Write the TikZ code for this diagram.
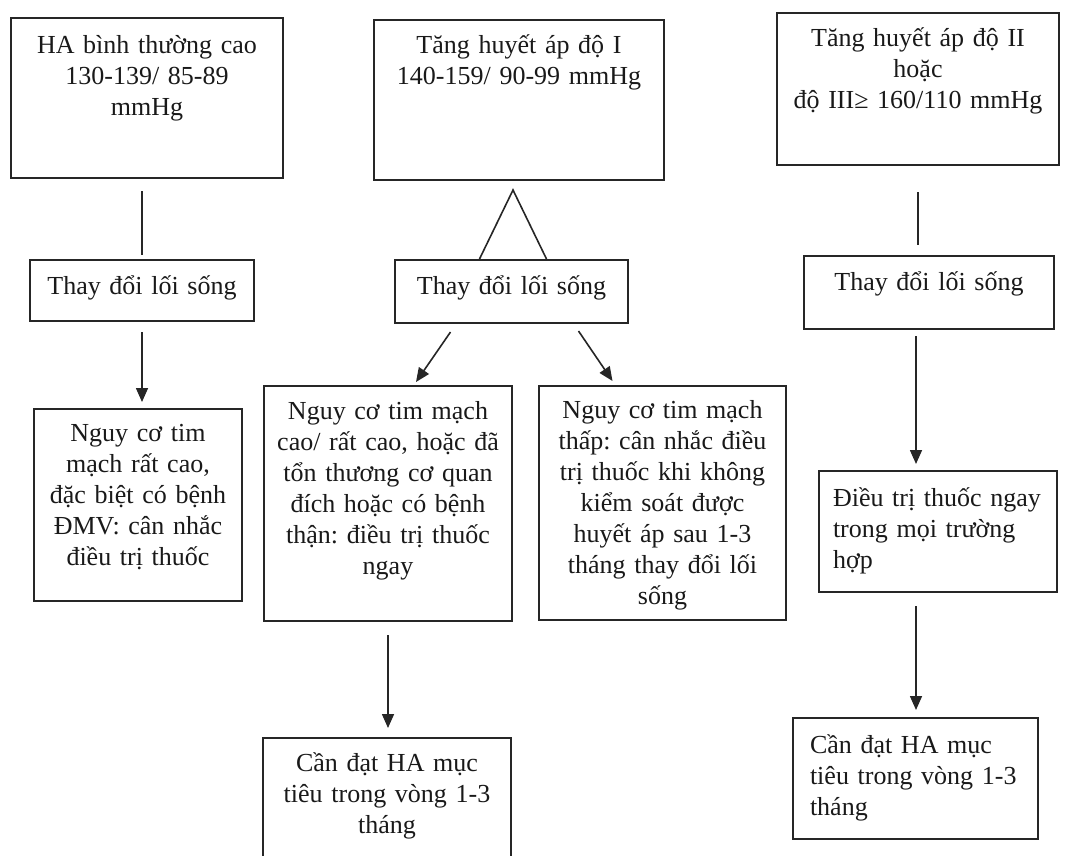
\documentclass[tikz,border=0pt]{standalone}
\usepackage{fontspec}
\setmainfont{Liberation Serif}
\usepackage{tikz}
\usetikzlibrary{arrows.meta}
\frenchspacing

\begin{document}
\begin{tikzpicture}[x=1pt,y=-1pt,
                box/.style={draw=black!85,line width=2pt,anchor=north west,
                    inner xsep=0pt,inner ysep=0pt,align=center,text=black!90,
                    font=\fontsize{26}{31}\selectfont},
                line/.style={draw=black!85,line width=1.6pt},
                arr/.style={line,-{Triangle[length=14pt,width=12pt]}}]
                \clip
                    (0,0) rectangle (1067,855);
                \node[box,text width=272pt,text height=35pt,text depth=125pt] (normal)
                    at (10,17) {HA bình thường cao\\130-139/ 85-89\\mmHg};
                \node[box,text width=290pt,text height=33pt,text depth=127pt] (grade1)
                    at (373,19) {Tăng huyết áp độ I\\140-159/ 90-99 mmHg};
                \node[box,text width=282pt,text height=33pt,text depth=119pt] (grade2)
                    at (776,12) {Tăng huyết áp độ II\\hoặc\\độ III≥ 160/110 mmHg};
                \node[box,text width=224pt,text height=34pt,text depth=27pt] (life1)
                    at (29,259) {Thay đổi lối sống};
                \node[box,text width=233pt,text height=34pt,text depth=29pt] (life2)
                    at (394,259) {Thay đổi lối sống};
                \node[box,text width=250pt,text height=34pt,text depth=39pt] (life3)
                    at (803,255) {Thay đổi lối sống};
                \node[box,text width=208pt,text height=32pt,text depth=160pt] (veryhigh)
                    at (33,408) {Nguy cơ tim\\mạch rất cao,\\đặc biệt có bệnh\\ĐMV: cân nhắc\\điều trị thuốc};
                \node[box,text width=248pt,text height=33pt,text depth=202pt] (high)
                    at (263,385) {Nguy cơ tim mạch\\cao/ rất cao, hoặc đã\\tổn thương cơ quan\\đích hoặc có bệnh\\thận: điều trị thuốc\\ngay};
                \node[box,text width=247pt,text height=32pt,text depth=202pt] (low)
                    at (538,385) {Nguy cơ tim mạch\\thấp: cân nhắc điều\\trị thuốc khi không\\kiểm soát được\\huyết áp sau 1-3\\tháng thay đổi lối\\sống};
                \node[box,align=left,inner xsep=14pt,text width=210pt,text height=35pt,text depth=86pt] (drugs)
                    at (818,470) {Điều trị thuốc ngay\\trong mọi trường\\hợp};
                \node[box,text width=248pt,text height=33pt,text depth=100pt] (target1)
                    at (262,737) {Cần đạt HA mục\\tiêu trong vòng 1-3\\tháng};
                \node[box,align=left,inner xsep=17pt,text width=211pt,text height=35pt,text depth=86pt] (target2)
                    at (792,717) {Cần đạt HA mục\\tiêu trong vòng 1-3\\tháng};
                \coordinate (peak) at (513,190);
                \coordinate (col3) at ([xshift=-13pt]life3.south);
                \draw[line,shorten <=12pt,shorten >=4pt]
                    (normal.south -| life1.north) -- (life1.north);
                \draw[line]
                    ([xshift=-32pt]life2.north) -- (peak) -- ([xshift=35pt]life2.north);
                \draw[line,shorten <=26pt,shorten >=10pt]
                    (grade2.south) -- (grade2.south |- life3.north);
                \draw[arr,shorten <=10pt,shorten >=6pt]
                    (life1.south) -- (life1.south |- veryhigh.north);
                \draw[arr]
                    ([xshift=-61pt,yshift=-8pt]life2.south) -- ([xshift=28pt,yshift=3pt]high.north);
                \draw[arr]
                    ([xshift=67pt,yshift=-7pt]life2.south) -- ([xshift=-50pt,yshift=4pt]low.north);
                \draw[arr,shorten <=6pt,shorten >=6pt]
                    (col3) -- (col3 |- drugs.north);
                \draw[arr,shorten <=13pt,shorten >=9pt]
                    (high.south) -- (high.south |- target1.north);
                \draw[arr,shorten <=13pt,shorten >=7pt]
                    (col3 |- drugs.south) -- (col3 |- target2.north);
            \end{tikzpicture}
\end{document}
